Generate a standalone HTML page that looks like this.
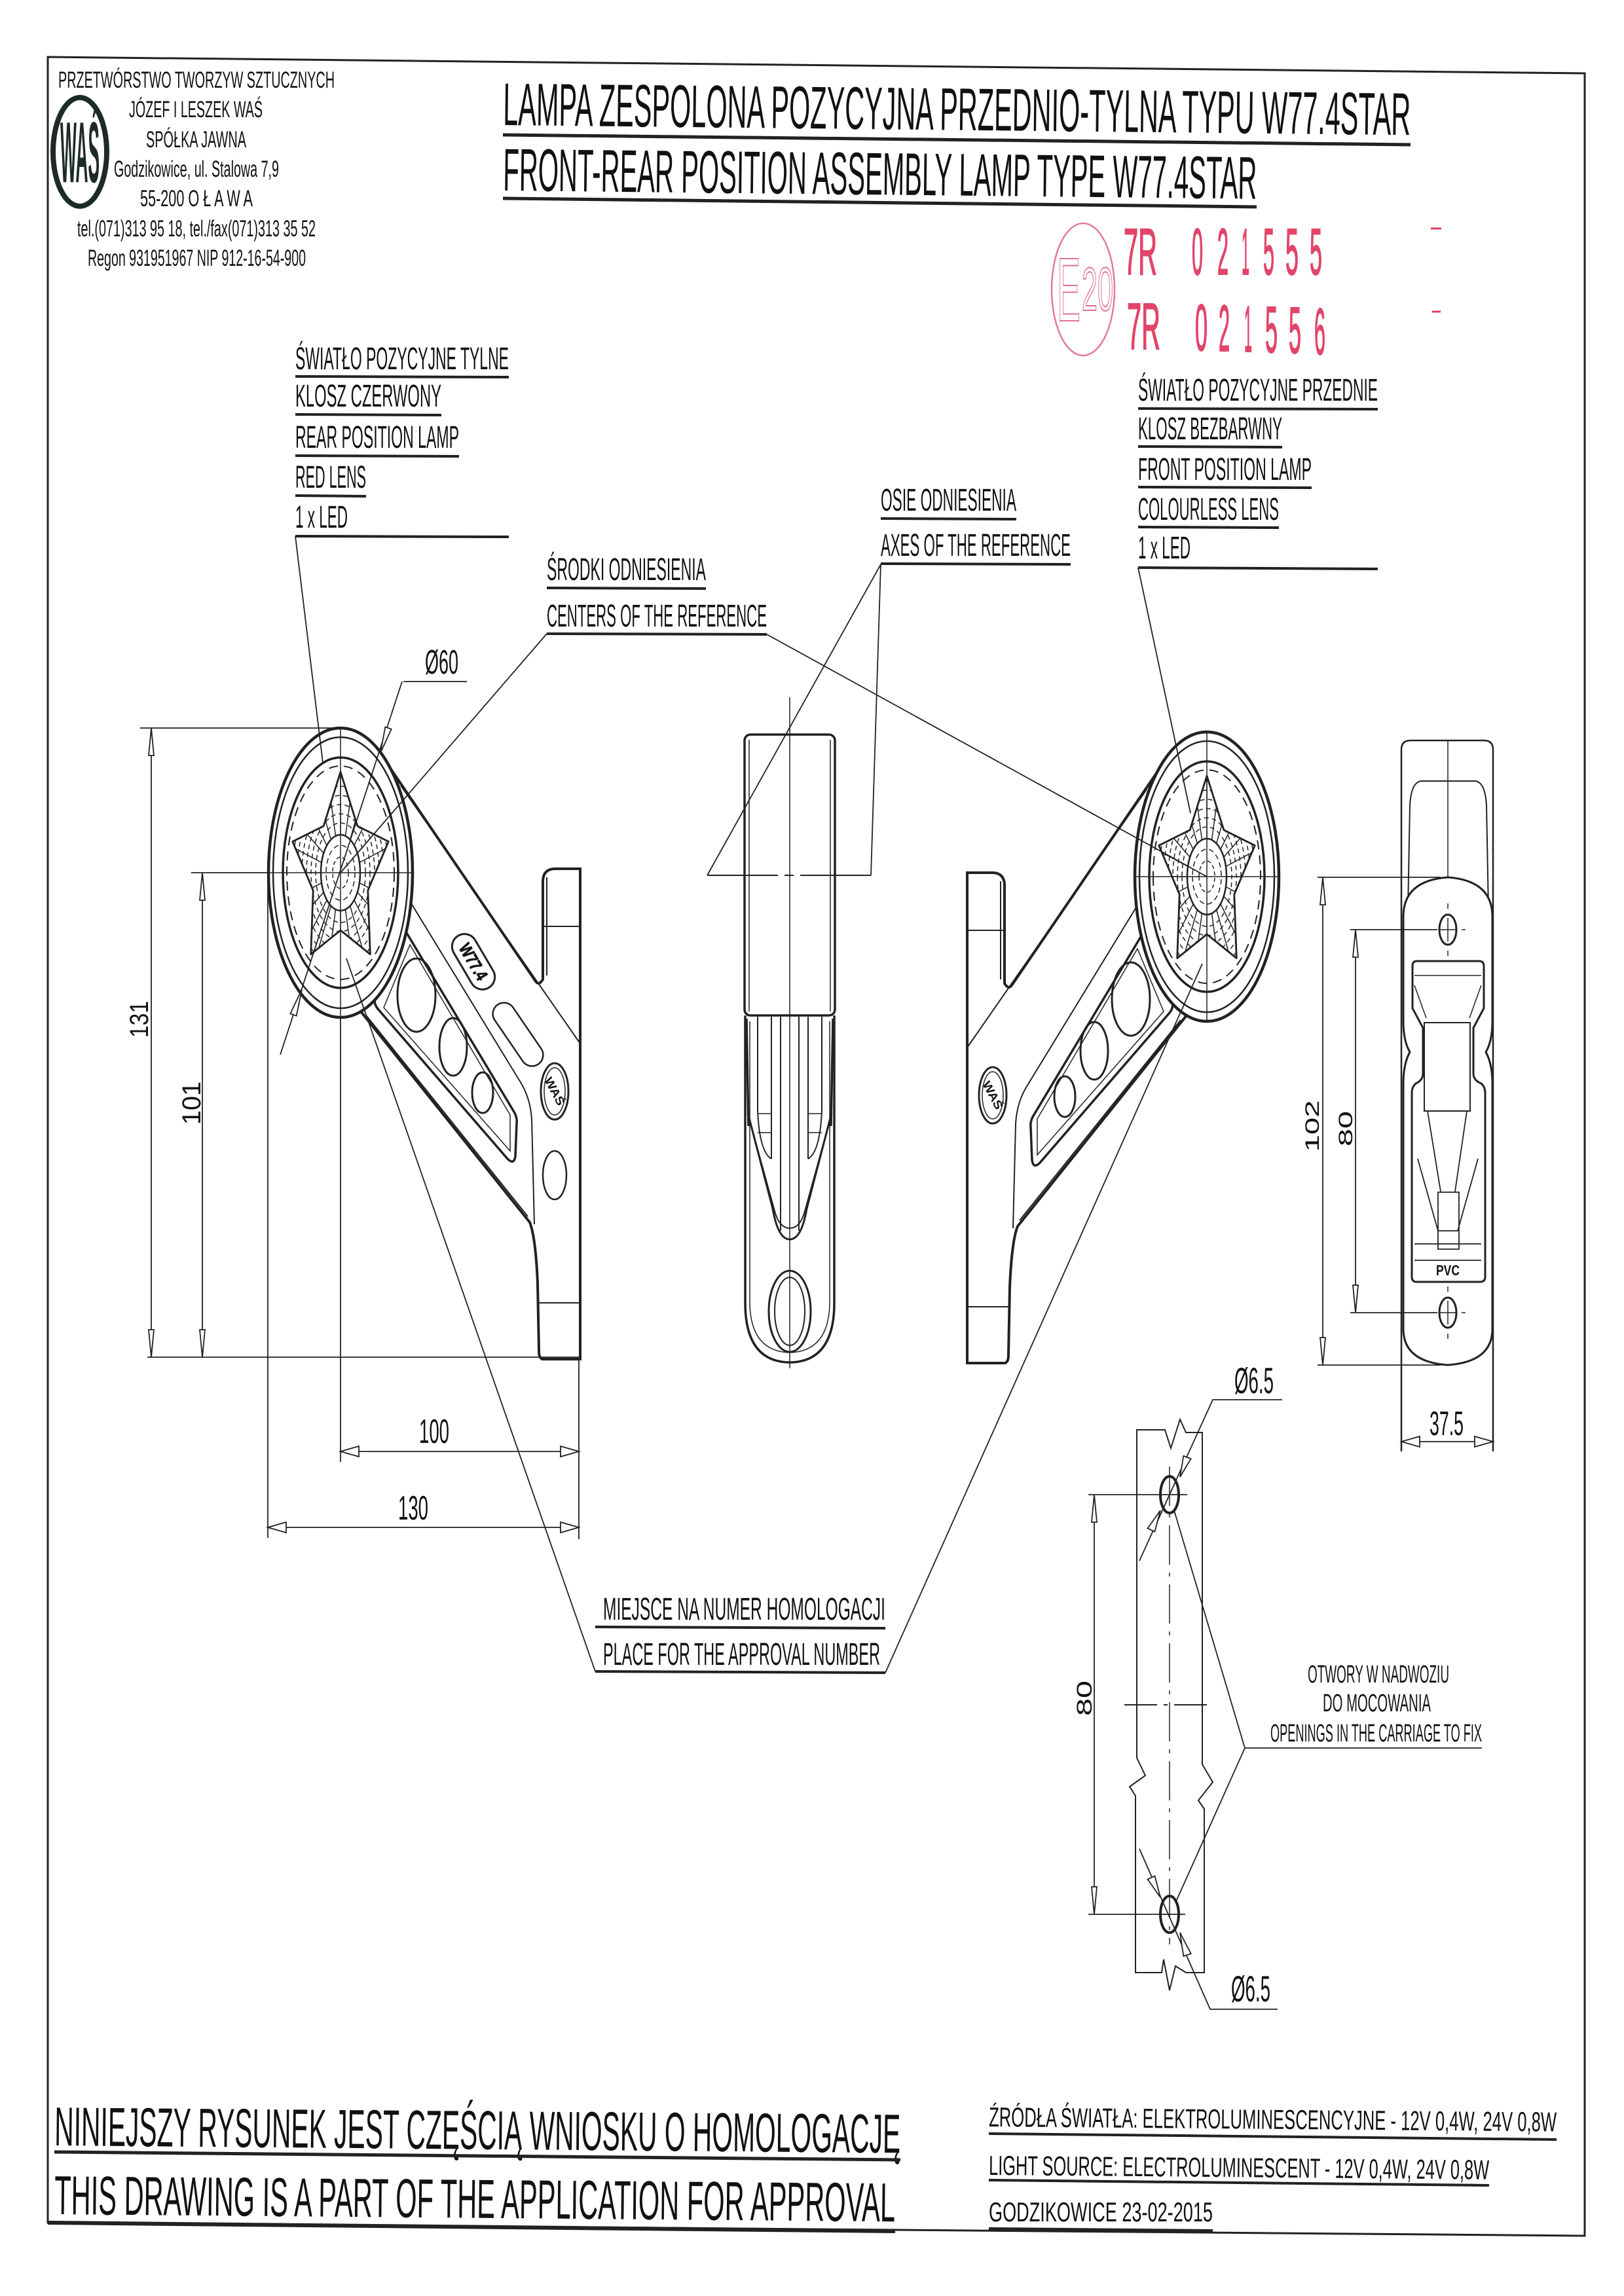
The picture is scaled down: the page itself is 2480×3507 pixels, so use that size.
<!DOCTYPE html>
<html><head><meta charset="utf-8"><style>
html,body{margin:0;padding:0;background:#fff;}
svg{display:block}
text{font-family:"Liberation Sans","DejaVu Sans",sans-serif;fill:#111}
</style></head><body>
<svg xmlns="http://www.w3.org/2000/svg" width="2480" height="3507" viewBox="0 0 2480 3507">
<rect width="2480" height="3507" fill="#fff"/>
<defs>
<clipPath id="starclip"><path d="M0,-154 L25.9,-71.2 L73.2,-47.6 L41.8,27.2 L45.3,124.6 L0,88 L-45.3,124.6 L-41.8,27.2 L-73.2,-47.6 L-25.9,-71.2 Z"/></clipPath>
</defs>

<!-- FRAME -->
<path d="M73,87 L2420,112 L2420,3415 L73,3395 Z" fill="none" stroke="#222" stroke-width="3"/>

<!-- HEADER -->
<ellipse cx="122" cy="232" rx="41" ry="83" fill="none" stroke="#1d2b26" stroke-width="8"/>
<g transform="translate(122,232) scale(1,2.2)"><text x="0" y="21" font-size="60" font-weight="bold" text-anchor="middle" textLength="60" lengthAdjust="spacingAndGlyphs" style="fill:#1d2b26">WAŚ</text></g>
<text x="89" y="134" font-size="35" textLength="422" lengthAdjust="spacingAndGlyphs">PRZETWÓRSTWO TWORZYW SZTUCZNYCH</text>
<text x="197" y="179" font-size="35" textLength="204" lengthAdjust="spacingAndGlyphs">JÓZEF I LESZEK WAŚ</text>
<text x="223" y="225" font-size="35" textLength="153" lengthAdjust="spacingAndGlyphs">SPÓŁKA JAWNA</text>
<text x="174" y="270" font-size="35" textLength="252" lengthAdjust="spacingAndGlyphs">Godzikowice, ul. Stalowa 7,9</text>
<text x="214" y="315" font-size="35" textLength="172" lengthAdjust="spacingAndGlyphs">55-200 O Ł A W A</text>
<text x="118" y="361" font-size="35" textLength="364" lengthAdjust="spacingAndGlyphs">tel.(071)313 95 18, tel./fax(071)313 35 52</text>
<text x="134" y="406" font-size="35" textLength="333" lengthAdjust="spacingAndGlyphs">Regon 931951967 NIP 912-16-54-900</text>

<!-- TITLE -->
<g transform="rotate(0.63 768 191)"><text x="768" y="191" font-size="92" textLength="1386" lengthAdjust="spacingAndGlyphs">LAMPA ZESPOLONA POZYCYJNA PRZEDNIO-TYLNA  TYPU W77.4STAR</text></g>
<line x1="768" y1="206" x2="2154" y2="221" stroke="#222" stroke-width="5"/>
<g transform="rotate(0.63 768 291)"><text x="768" y="291" font-size="92" textLength="1151" lengthAdjust="spacingAndGlyphs">FRONT-REAR POSITION ASSEMBLY LAMP  TYPE W77.4STAR</text></g>
<line x1="768" y1="303" x2="1919" y2="316" stroke="#222" stroke-width="5"/>

<!-- STAMP -->
<ellipse cx="1654" cy="442" rx="48" ry="101" fill="none" stroke="#e27a98" stroke-width="2.5"/>
<text x="1614" y="490" font-size="138" textLength="36" lengthAdjust="spacingAndGlyphs" style="fill:none;stroke:#e0708f;stroke-width:2">E</text>
<text x="1652" y="474" font-size="94" textLength="48" lengthAdjust="spacingAndGlyphs" style="fill:none;stroke:#e0708f;stroke-width:2">20</text>
<g font-size="100">
<text x="1716" y="419" textLength="51" lengthAdjust="spacingAndGlyphs" style="fill:#e2456a;stroke:#e2456a;stroke-width:2">7R</text>
<text x="1820" y="419" textLength="17" lengthAdjust="spacingAndGlyphs" style="fill:#e2456a;stroke:#e2456a;stroke-width:2">0</text>
<text x="1859" y="419" textLength="17" lengthAdjust="spacingAndGlyphs" style="fill:#e2456a;stroke:#e2456a;stroke-width:2">2</text>
<text x="1896" y="419" textLength="12" lengthAdjust="spacingAndGlyphs" style="fill:#e2456a;stroke:#e2456a;stroke-width:2">1</text>
<text x="1929" y="419" textLength="17" lengthAdjust="spacingAndGlyphs" style="fill:#e2456a;stroke:#e2456a;stroke-width:2">5</text>
<text x="1963" y="419" textLength="20" lengthAdjust="spacingAndGlyphs" style="fill:#e2456a;stroke:#e2456a;stroke-width:2">5</text>
<text x="2000" y="419" textLength="19" lengthAdjust="spacingAndGlyphs" style="fill:#e2456a;stroke:#e2456a;stroke-width:2">5</text>
<text x="1721" y="533" textLength="51" lengthAdjust="spacingAndGlyphs" style="fill:#e2456a;stroke:#e2456a;stroke-width:2">7R</text>
<text x="1825" y="535" textLength="19" lengthAdjust="spacingAndGlyphs" style="fill:#e2456a;stroke:#e2456a;stroke-width:2">0</text>
<text x="1861" y="536" textLength="17" lengthAdjust="spacingAndGlyphs" style="fill:#e2456a;stroke:#e2456a;stroke-width:2">2</text>
<text x="1900" y="537" textLength="12" lengthAdjust="spacingAndGlyphs" style="fill:#e2456a;stroke:#e2456a;stroke-width:2">1</text>
<text x="1932" y="538" textLength="19" lengthAdjust="spacingAndGlyphs" style="fill:#e2456a;stroke:#e2456a;stroke-width:2">5</text>
<text x="1968" y="539" textLength="19" lengthAdjust="spacingAndGlyphs" style="fill:#e2456a;stroke:#e2456a;stroke-width:2">5</text>
<text x="2007" y="541" textLength="17" lengthAdjust="spacingAndGlyphs" style="fill:#e2456a;stroke:#e2456a;stroke-width:2">6</text>
</g>
<path d="M2185,349 H2201 M2187,476 H2200" stroke="#e03c5c" stroke-width="3"/>

<!-- LEFT LABELS -->
<text x="451" y="564" font-size="48" textLength="326" lengthAdjust="spacingAndGlyphs">ŚWIATŁO POZYCYJNE TYLNE</text>
<text x="451" y="621" font-size="48" textLength="223" lengthAdjust="spacingAndGlyphs">KLOSZ CZERWONY</text>
<text x="451" y="684" font-size="48" textLength="250" lengthAdjust="spacingAndGlyphs">REAR POSITION LAMP</text>
<text x="451" y="745" font-size="48" textLength="108" lengthAdjust="spacingAndGlyphs">RED LENS</text>
<text x="451" y="806" font-size="48" textLength="80" lengthAdjust="spacingAndGlyphs">1 x LED</text>
<path d="M451,575 L777,576 M451,633 L674,634 M451,696 L701,697 M451,757 L559,758 M451,819 L777,820" stroke="#222" stroke-width="4"/>

<text x="835" y="886" font-size="48" textLength="243" lengthAdjust="spacingAndGlyphs">ŚRODKI ODNIESIENIA</text>
<text x="835" y="957" font-size="48" textLength="336" lengthAdjust="spacingAndGlyphs">CENTERS OF THE REFERENCE</text>
<path d="M835,898 L1078,899 M835,968 L1171,969" stroke="#222" stroke-width="4"/>

<text x="1345" y="780" font-size="48" textLength="207" lengthAdjust="spacingAndGlyphs">OSIE ODNIESIENIA</text>
<text x="1345" y="849" font-size="48" textLength="290" lengthAdjust="spacingAndGlyphs">AXES OF THE REFERENCE</text>
<path d="M1345,792 L1552,793 M1345,861 L1635,862" stroke="#222" stroke-width="4"/>

<!-- RIGHT LABELS -->
<text x="1738" y="612" font-size="48" textLength="366" lengthAdjust="spacingAndGlyphs">ŚWIATŁO POZYCYJNE PRZEDNIE</text>
<text x="1738" y="671" font-size="48" textLength="220" lengthAdjust="spacingAndGlyphs">KLOSZ BEZBARWNY</text>
<text x="1738" y="733" font-size="48" textLength="265" lengthAdjust="spacingAndGlyphs">FRONT POSITION LAMP</text>
<text x="1738" y="794" font-size="48" textLength="215" lengthAdjust="spacingAndGlyphs">COLOURLESS LENS</text>
<text x="1738" y="853" font-size="48" textLength="80" lengthAdjust="spacingAndGlyphs">1 x LED</text>
<path d="M1738,624 L2104,625 M1738,682 L1958,683 M1738,744 L2003,745 M1738,805 L1953,806 M1738,867 L2104,869" stroke="#222" stroke-width="4"/>

<!-- LEFT LAMP -->
<g fill="none" stroke="#222">
<path d="M597,1175 L818,1499 Q823,1506 829,1496 L829,1345 Q830,1327 848,1327 L886,1327 L886,2076 L828,2076 Q823,2074 823,2064 L821,1960 Q818,1890 809,1867 L551,1545" stroke-width="4"/>
<path d="M612,1200 L829,1512 M829,1512 L886,1594" stroke-width="2"/>
<path d="M628,1380 L793,1650 Q810,1676 812,1710 L816,1870" stroke-width="2"/>
<path d="M560,1552 L806,1858" stroke-width="2"/>
<path d="M829,1415 H886 M823,1990 H886 M835,1340 V1490" stroke-width="2"/>
<path d="M621,1425 L786,1700 Q790,1708 789,1716 L787,1766 Q785,1780 775,1770 L577,1541 Q569,1531 574,1520 Z" stroke-width="3.5"/>
<path d="M626,1443 L779,1703 L779,1758 L586,1539 Z" stroke-width="1.5"/>
<ellipse cx="636" cy="1520" rx="29" ry="56" stroke-width="3"/>
<ellipse cx="692" cy="1599" rx="21" ry="44" stroke-width="3"/>
<ellipse cx="737" cy="1669" rx="16" ry="31" stroke-width="3"/>
<ellipse cx="847" cy="1667" rx="21" ry="43" stroke-width="3"/>
<ellipse cx="847" cy="1667" rx="16" ry="36" stroke-width="1.5"/>
<ellipse cx="520" cy="1333" rx="110" ry="221" stroke-width="4.5" fill="#fff"/>
<ellipse cx="520" cy="1333" rx="103" ry="207" stroke-width="2.5"/>
<ellipse cx="520" cy="1333" rx="88" ry="176" stroke-width="3.5"/>
<ellipse cx="520" cy="1333" rx="82" ry="163" stroke-width="2" stroke-dasharray="14 9"/>
<g transform="translate(520,1333)">
<g clip-path="url(#starclip)" stroke-width="1.5">
<path d="M80,0L-80,0M77.3,41.4L-77.3,-41.4M69.3,80L-69.3,-80M56.6,113.1L-56.6,-113.1M40,138.6L-40,-138.6M20.7,154.5L-20.7,-154.5M0,160L0,-160M-20.7,154.5L20.7,-154.5M-40,138.6L40,-138.6M-56.6,113.1L56.6,-113.1M-69.3,80L69.3,-80M-77.3,41.4L77.3,-41.4"/>
<ellipse rx="38" ry="76" stroke-dasharray="7 5"/><ellipse rx="45" ry="90" stroke-dasharray="7 5"/><ellipse rx="52" ry="104" stroke-dasharray="7 5"/><ellipse rx="59" ry="118" stroke-dasharray="7 5"/><ellipse rx="66" ry="132" stroke-dasharray="7 5"/><ellipse rx="73" ry="146" stroke-dasharray="7 5"/>
</g>
<path d="M0,-154 L25.9,-71.2 L73.2,-47.6 L41.8,27.2 L45.3,124.6 L0,88 L-45.3,124.6 L-41.8,27.2 L-73.2,-47.6 L-25.9,-71.2 Z" stroke-width="2.8" stroke-linejoin="round"/>
<ellipse rx="30" ry="58" fill="#fff" stroke-width="2.5"/>
<ellipse rx="22" ry="42" stroke-width="1.5" stroke-dasharray="8 5"/>
<ellipse rx="12" ry="24" stroke-width="1.5" stroke-dasharray="6 4"/>
</g>
<path d="M410,1333 H630 M520,1112 V1554" stroke-width="1.5"/>
</g>

<!-- RIGHT LAMP (mirror) -->
<g fill="none" stroke="#222" transform="matrix(-1 0 0 1 2363 6)">
<path d="M597,1175 L818,1499 Q823,1506 829,1496 L829,1345 Q830,1327 848,1327 L886,1327 L886,2076 L828,2076 Q823,2074 823,2064 L821,1960 Q818,1890 809,1867 L551,1545" stroke-width="4"/>
<path d="M612,1200 L829,1512 M829,1512 L886,1594" stroke-width="2"/>
<path d="M628,1380 L793,1650 Q810,1676 812,1710 L816,1870" stroke-width="2"/>
<path d="M560,1552 L806,1858" stroke-width="2"/>
<path d="M829,1415 H886 M823,1990 H886 M835,1340 V1490" stroke-width="2"/>
<path d="M621,1425 L786,1700 Q790,1708 789,1716 L787,1766 Q785,1780 775,1770 L577,1541 Q569,1531 574,1520 Z" stroke-width="3.5"/>
<path d="M626,1443 L779,1703 L779,1758 L586,1539 Z" stroke-width="1.5"/>
<ellipse cx="636" cy="1520" rx="29" ry="56" stroke-width="3"/>
<ellipse cx="692" cy="1599" rx="21" ry="44" stroke-width="3"/>
<ellipse cx="737" cy="1669" rx="16" ry="31" stroke-width="3"/>
<ellipse cx="847" cy="1667" rx="21" ry="43" stroke-width="3"/>
<ellipse cx="847" cy="1667" rx="16" ry="36" stroke-width="1.5"/>
<ellipse cx="520" cy="1333" rx="110" ry="221" stroke-width="4.5" fill="#fff"/>
<ellipse cx="520" cy="1333" rx="103" ry="207" stroke-width="2.5"/>
<ellipse cx="520" cy="1333" rx="88" ry="176" stroke-width="3.5"/>
<ellipse cx="520" cy="1333" rx="82" ry="163" stroke-width="2" stroke-dasharray="14 9"/>
<g transform="translate(520,1333)">
<g clip-path="url(#starclip)" stroke-width="1.5">
<path d="M80,0L-80,0M77.3,41.4L-77.3,-41.4M69.3,80L-69.3,-80M56.6,113.1L-56.6,-113.1M40,138.6L-40,-138.6M20.7,154.5L-20.7,-154.5M0,160L0,-160M-20.7,154.5L20.7,-154.5M-40,138.6L40,-138.6M-56.6,113.1L56.6,-113.1M-69.3,80L69.3,-80M-77.3,41.4L77.3,-41.4"/>
<ellipse rx="38" ry="76" stroke-dasharray="7 5"/><ellipse rx="45" ry="90" stroke-dasharray="7 5"/><ellipse rx="52" ry="104" stroke-dasharray="7 5"/><ellipse rx="59" ry="118" stroke-dasharray="7 5"/><ellipse rx="66" ry="132" stroke-dasharray="7 5"/><ellipse rx="73" ry="146" stroke-dasharray="7 5"/>
</g>
<path d="M0,-154 L25.9,-71.2 L73.2,-47.6 L41.8,27.2 L45.3,124.6 L0,88 L-45.3,124.6 L-41.8,27.2 L-73.2,-47.6 L-25.9,-71.2 Z" stroke-width="2.8" stroke-linejoin="round"/>
<ellipse rx="30" ry="58" fill="#fff" stroke-width="2.5"/>
<ellipse rx="22" ry="42" stroke-width="1.5" stroke-dasharray="8 5"/>
<ellipse rx="12" ry="24" stroke-width="1.5" stroke-dasharray="6 4"/>
</g>
<path d="M410,1333 H630 M520,1112 V1554" stroke-width="1.5"/>
</g>

<!-- LEFT LAMP EXTRAS -->
<g fill="none" stroke="#222">
<g transform="translate(723,1469) rotate(59.6)"><rect x="-46" y="-19" width="92" height="38" rx="19" stroke-width="3"/><text x="0" y="9" font-size="26" font-weight="bold" text-anchor="middle" textLength="60" lengthAdjust="spacingAndGlyphs">W77.4</text></g>
<rect x="-55" y="-17" width="110" height="34" rx="17" transform="translate(791,1580) rotate(55.7)" stroke-width="2.5"/>
<ellipse cx="847" cy="1795" rx="18" ry="37" stroke-width="2.5"/>
</g>
<g transform="translate(847,1667) rotate(62)"><text x="0" y="6" font-size="18" font-weight="bold" text-anchor="middle" textLength="46" lengthAdjust="spacingAndGlyphs">WAŚ</text></g>
<g transform="translate(1516,1673) rotate(62)"><text x="0" y="6" font-size="18" font-weight="bold" text-anchor="middle" textLength="46" lengthAdjust="spacingAndGlyphs">WAŚ</text></g>

<!-- LEFT DIMENSIONS -->
<g fill="none" stroke="#222" stroke-width="1.8">
<path d="M214,1112 H520 M292,1333 H410 M225,2073 H886 M231,1112 V2073 M309,1333 V2073 M409,1333 V2349 M520,1554 V2233 M884,2076 V2351 M520,2217 H884 M409,2333 H884"/>
<path d="M614,1041 L428,1611 M616,1041 H713"/>
</g>
<g fill="#fff" stroke="#222" stroke-width="1.8">
<polygon points="231,1112 227,1154 235,1154"/><polygon points="231,2073 227,2031 235,2031"/>
<polygon points="309,1333 305,1375 313,1375"/><polygon points="309,2073 305,2031 313,2031"/>
<polygon points="520,2217 548,2209 548,2225"/><polygon points="884,2217 856,2209 856,2225"/>
<polygon points="409,2333 437,2325 437,2341"/><polygon points="884,2333 856,2325 856,2341"/>
<polygon points="581,1150 597.7,1113.6 588.3,1110.4"/><polygon points="461,1511 452.7,1551.6 443.3,1548.4"/>
</g>
<g transform="translate(226,1557) rotate(-90)"><text x="0" y="0" font-size="40" text-anchor="middle" textLength="56" lengthAdjust="spacingAndGlyphs">131</text></g>
<g transform="translate(306,1685) rotate(-90)"><text x="0" y="0" font-size="40" text-anchor="middle" textLength="66" lengthAdjust="spacingAndGlyphs">101</text></g>
<text x="663" y="2204" font-size="52" text-anchor="middle" textLength="46" lengthAdjust="spacingAndGlyphs">100</text>
<text x="631" y="2321" font-size="52" text-anchor="middle" textLength="46" lengthAdjust="spacingAndGlyphs">130</text>
<text x="649" y="1029" font-size="52" textLength="51" lengthAdjust="spacingAndGlyphs">Ø60</text>

<!-- CENTER VIEW -->
<g fill="none" stroke="#222">
<rect x="1137" y="1122" width="138" height="429" rx="9" stroke-width="3.5"/>
<path d="M1144,1130 V1545 M1268,1130 V1545" stroke-width="1.5"/>
<path d="M1138,1551 V1990 Q1138,2080 1206,2081 Q1274,2080 1274,1990 V1551" stroke-width="3.5"/>
<path d="M1145,1560 V1990 Q1146,2064 1206,2066 Q1266,2064 1267,1990 V1560" stroke-width="1.5"/>
<path d="M1140,1556 L1143,1720 M1272,1556 L1269,1720" stroke-width="3.5"/>
<path d="M1157,1553 V1697 M1178,1553 V1770 M1192,1553 V1880 M1220,1553 V1880 M1234,1553 V1770 M1255,1553 V1697" stroke-width="2"/>
<path d="M1142,1700 L1180,1846 Q1188,1893 1206,1893 Q1224,1893 1232,1846 L1270,1700" stroke-width="3"/>
<path d="M1150,1730 L1183,1850 Q1190,1876 1206,1876 Q1222,1876 1229,1850 L1262,1730" stroke-width="2"/>
<path d="M1157,1697 Q1160,1760 1178,1770 M1255,1697 Q1252,1760 1234,1770" stroke-width="2"/>
<path d="M1157,1701 H1178 M1157,1730 H1178 M1234,1701 H1255 M1234,1730 H1255" stroke-width="1.5"/>
<ellipse cx="1206" cy="2003" rx="32" ry="62" stroke-width="3"/>
<ellipse cx="1206" cy="2003" rx="23" ry="52" stroke-width="2"/>
<path d="M1206,1065 V2090" stroke-width="1.5"/>
<path d="M1080,1337 H1188 M1198,1337 H1212 M1222,1337 H1330" stroke-width="2"/>
</g>

<!-- SIDE VIEW -->
<g fill="none" stroke="#222">
<path d="M2140,2217 V1145 Q2140,1131 2154,1131 H2266 Q2280,1131 2280,1145 V2217" stroke-width="2.5"/>
<path d="M2150,1390 L2153,1230 Q2155,1195 2170,1193 H2253 Q2268,1195 2270,1230 L2273,1390" stroke-width="2"/>
<path d="M2211,1131 V1340" stroke-width="1.5"/>
<path d="M2211,1340 Q2143,1345 2143,1400 V1560 Q2143,1590 2153,1607 Q2143,1625 2143,1655 V2030 Q2143,2080 2211,2085 Q2279,2080 2279,2030 V1655 Q2279,1625 2269,1607 Q2279,1590 2279,1560 V1400 Q2279,1345 2211,1340 Z" stroke-width="3" fill="#fff"/>
<path d="M2163,1468 H2259 Q2266,1468 2266,1476 V1540 L2250,1570 V1640 Q2250,1650 2262,1655 Q2268,1660 2268,1670 V1950 Q2268,1958 2260,1958 H2163 Q2156,1958 2156,1950 V1670 Q2156,1660 2162,1655 Q2173,1650 2173,1640 V1570 L2157,1540 V1476 Q2157,1468 2163,1468 Z" stroke-width="3"/>
<path d="M2175,1562 H2245 V1697 H2175 Z" stroke-width="2"/>
<path d="M2160,1505 L2178,1555 M2262,1505 L2244,1555 M2160,1490 H2262" stroke-width="1.5"/>
<path d="M2165,1770 L2196,1880 H2226 L2257,1770 M2180,1697 L2200,1820 M2240,1697 L2222,1820 M2160,1900 H2262 M2160,1925 H2262" stroke-width="1.8"/>
<path d="M2196,1821 H2228 V1908 H2196 Z" stroke-width="1.8"/>
<ellipse cx="2211" cy="1420" rx="13" ry="23" stroke-width="3"/>
<ellipse cx="2211" cy="2005" rx="13" ry="23" stroke-width="3"/>
<path d="M2199,1420 H2223 M2211,1402 V1438 M2199,2005 H2223 M2211,1987 V2023 M2211,1380 V1388 M2211,1452 V1460 M2232,1420 H2238 M2211,1965 V1973 M2211,2037 V2045 M2232,2005 H2238" stroke-width="1.5"/>
<path d="M2012,1340 H2200 M2012,2085 H2200 M2020,1340 V2085 M2062,1420 H2195 M2062,2005 H2195 M2070,1420 V2005 M2140,2202 H2280" stroke-width="1.8"/>
</g>
<text x="2211" y="1948" font-size="22" font-weight="bold" text-anchor="middle" textLength="36" lengthAdjust="spacingAndGlyphs">PVC</text>
<g fill="#fff" stroke="#222" stroke-width="1.8">
<polygon points="2020,1340 2016,1382 2024,1382"/><polygon points="2020,2085 2016,2043 2024,2043"/>
<polygon points="2070,1420 2066,1462 2074,1462"/><polygon points="2070,2005 2066,1963 2074,1963"/>
<polygon points="2140,2202 2168,2194 2168,2210"/><polygon points="2280,2202 2252,2194 2252,2210"/>
</g>
<g transform="translate(2014,1720) rotate(-90)"><text x="0" y="0" font-size="30" text-anchor="middle" textLength="79" lengthAdjust="spacingAndGlyphs">102</text></g>
<g transform="translate(2065,1724) rotate(-90)"><text x="0" y="0" font-size="30" text-anchor="middle" textLength="54" lengthAdjust="spacingAndGlyphs">80</text></g>
<text x="2209" y="2192" font-size="52" text-anchor="middle" textLength="52" lengthAdjust="spacingAndGlyphs">37.5</text>

<!-- HOLE DETAIL -->
<g fill="none" stroke="#222">
<path d="M1836,2188 H1811 L1802,2168 L1788,2212 L1779,2184 H1736 V2685 L1749,2712 L1725,2729 L1734,2743 V3013 H1774 L1777,2993 L1786,3040 L1795,3003 L1811,3013 H1839 V2763 L1830,2750 L1852,2722 L1836,2695 Z" stroke-width="2"/>
<ellipse cx="1786" cy="2283" rx="14" ry="28" stroke-width="4"/>
<ellipse cx="1786" cy="2924" rx="14" ry="28" stroke-width="4"/>
<path d="M1786,2240 V2970" stroke-width="1.5" stroke-dasharray="60 12 6 12"/>
<path d="M1717,2604 H1852" stroke-width="2" stroke-dasharray="50 10 6 10"/>
<path d="M1662,2283 H1813 M1662,2924 H1810 M1671,2283 V2924" stroke-width="1.8"/>
<path d="M1958,2138 H1852 L1740,2384 M1951,3069 H1848 L1740,2824" stroke-width="1.8"/>
<path d="M2263,2670 H1901 L1793,2307 M1901,2670 L1797,2902" stroke-width="1.8"/>
</g>
<g fill="#fff" stroke="#222" stroke-width="1.8">
<polygon points="1671,2283 1667,2325 1675,2325"/><polygon points="1671,2924 1667,2882 1675,2882"/>
<polygon points="1802,2256 1818.6,2228.1 1807.4,2223.9"/><polygon points="1772,2307 1763.5,2339.5 1752.5,2334.5"/>
<polygon points="1772,2898 1763.5,2865.5 1752.5,2870.5"/><polygon points="1802,2952 1818.7,2984.2 1807.3,2987.8"/>
</g>
<g transform="translate(1667,2594) rotate(-90)"><text x="0" y="0" font-size="32" text-anchor="middle" textLength="54" lengthAdjust="spacingAndGlyphs">80</text></g>
<text x="1885" y="2128" font-size="56" textLength="60" lengthAdjust="spacingAndGlyphs">Ø6.5</text>
<text x="1880" y="3057" font-size="56" textLength="60" lengthAdjust="spacingAndGlyphs">Ø6.5</text>
<text x="1997" y="2570" font-size="38" textLength="216" lengthAdjust="spacingAndGlyphs">OTWORY W NADWOZIU</text>
<text x="2020" y="2614" font-size="38" textLength="165" lengthAdjust="spacingAndGlyphs">DO MOCOWANIA</text>
<text x="1940" y="2660" font-size="38" textLength="323" lengthAdjust="spacingAndGlyphs">OPENINGS IN THE CARRIAGE TO FIX</text>

<!-- MIEJSCE LABEL -->
<text x="921" y="2474" font-size="48" textLength="431" lengthAdjust="spacingAndGlyphs">MIEJSCE NA NUMER HOMOLOGACJI</text>
<text x="921" y="2543" font-size="48" textLength="423" lengthAdjust="spacingAndGlyphs">PLACE FOR THE APPROVAL NUMBER</text>
<path d="M909,2485 L1352,2487 M909,2553 L1352,2555" stroke="#222" stroke-width="4"/>

<!-- LEADER LINES -->
<g fill="none" stroke="#222" stroke-width="1.8">
<path d="M451,819 L493,1165"/>
<path d="M835,968 L520,1333"/>
<path d="M1171,969 L1843,1339"/>
<path d="M1345,862 L1080,1337 M1345,862 L1330,1337"/>
<path d="M1738,867 L1818,1242"/>
<path d="M909,2553 L529,1464 M1352,2555 L1836,1472"/>
</g>

<!-- BOTTOM TEXTS -->
<g transform="rotate(0.5 83 3277)"><text x="83" y="3277" font-size="84" textLength="1292" lengthAdjust="spacingAndGlyphs">NINIEJSZY RYSUNEK JEST CZĘŚCIĄ WNIOSKU O  HOMOLOGACJĘ</text></g>
<line x1="83" y1="3287" x2="1375" y2="3299" stroke="#222" stroke-width="5"/>
<g transform="rotate(0.5 83 3382)"><text x="83" y="3382" font-size="84" textLength="1284" lengthAdjust="spacingAndGlyphs">THIS DRAWING IS A PART OF THE APPLICATION FOR  APPROVAL</text></g>
<line x1="73" y1="3395" x2="1367" y2="3408" stroke="#222" stroke-width="6"/>
<g transform="rotate(0.5 1510 3248)"><text x="1510" y="3248" font-size="42" textLength="867" lengthAdjust="spacingAndGlyphs">ŹRÓDŁA ŚWIATŁA: ELEKTROLUMINESCENCYJNE - 12V 0,4W, 24V 0,8W</text></g>
<line x1="1510" y1="3259" x2="2377" y2="3268" stroke="#222" stroke-width="4"/>
<g transform="rotate(0.5 1510 3322)"><text x="1510" y="3322" font-size="42" textLength="764" lengthAdjust="spacingAndGlyphs">LIGHT SOURCE: ELECTROLUMINESCENT - 12V 0,4W, 24V 0,8W</text></g>
<line x1="1510" y1="3330" x2="2274" y2="3338" stroke="#222" stroke-width="4"/>
<text x="1510" y="3393" font-size="42" textLength="342" lengthAdjust="spacingAndGlyphs">GODZIKOWICE  23-02-2015</text>
<line x1="1510" y1="3405" x2="1852" y2="3408" stroke="#222" stroke-width="6"/>
</svg>
</body></html>
